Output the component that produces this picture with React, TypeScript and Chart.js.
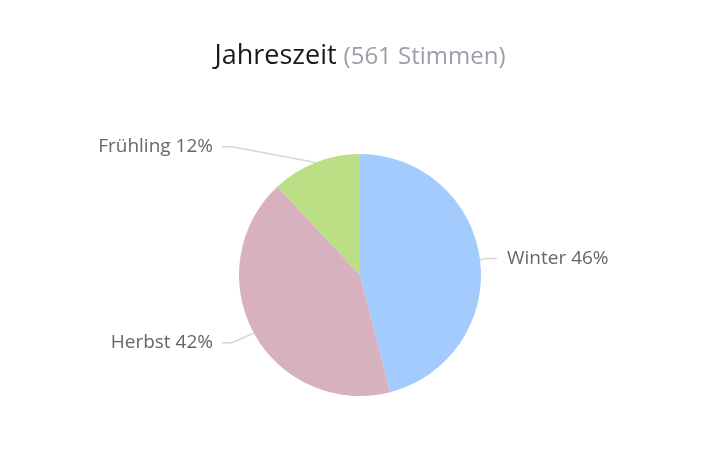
import { Chart, registerables } from 'chart.js'
import type { Plugin } from 'chart.js'
import { useEffect, useRef } from 'react'

Chart.register(...registerables)

const seasons = ['Winter', 'Herbst', 'Frühling']
const votes = [258, 236, 67]
const sliceColors = ['#a3cbfe', '#d8b1be', '#badf85']
const titleText = 'Jahreszeit'

const FONT = '"Open Sans", "Noto Sans", sans-serif'

const totalVotes = votes.reduce((a, b) => a + b, 0)

// title + outside labels with connector lines
const pieLabels: Plugin<'pie'> = {
  id: 'pieLabels',
  afterDraw(chart) {
    const ctx = chart.ctx
    ctx.save()

    // title
    const main = titleText + ' '
    const sub = `(${totalVotes} Stimmen)`
    ctx.textBaseline = 'alphabetic'
    ctx.font = `27px ${FONT}`
    const w1 = ctx.measureText(main).width
    ctx.font = `24px ${FONT}`
    const w2 = ctx.measureText(sub).width
    const startX = chart.width / 2 - (w1 + w2) / 2
    ctx.textAlign = 'left'
    ctx.font = `27px ${FONT}`
    ctx.fillStyle = '#1a1a1a'
    ctx.fillText(main, startX, 64)
    ctx.font = `24px ${FONT}`
    ctx.fillStyle = '#9a9ea6'
    ctx.fillText(sub, startX + w1, 64)

    // slice labels
    const meta = chart.getDatasetMeta(0)
    meta.data.forEach((el: any, i: number) => {
      const { x, y, startAngle, endAngle, outerRadius: r } = el.getProps(
        ['x', 'y', 'startAngle', 'endAngle', 'outerRadius'],
        true
      )
      const mid = (startAngle + endAngle) / 2
      const ex = x + r * Math.cos(mid)
      const ey = y + r * Math.sin(mid)
      const ly = y + (r + 18) * Math.sin(mid) + 1
      const left = Math.cos(mid) < 0
      const pct = Math.round((votes[i] / totalVotes) * 100)
      const text = `${seasons[i]} ${pct}%`

      const lineStart = left ? x - r - 17 : x + r + 16
      const lineBreak = left ? lineStart + 10 : lineStart - 10
      ctx.strokeStyle = '#d6d6d6'
      ctx.lineWidth = 1.5
      ctx.beginPath()
      ctx.moveTo(lineStart, ly)
      ctx.lineTo(lineBreak, ly)
      ctx.lineTo(ex, ey)
      ctx.stroke()

      ctx.font = `19px ${FONT}`
      ctx.fillStyle = '#666666'
      ctx.textBaseline = 'middle'
      ctx.textAlign = left ? 'right' : 'left'
      ctx.fillText(text, left ? x - r - 26 : x + r + 26, ly)
    })
    ctx.restore()
  }
}

function SeasonPie() {
  const canvasRef = useRef<HTMLCanvasElement>(null)

  useEffect(() => {
    if (!canvasRef.current) return () => {}
    const chart = new Chart(canvasRef.current, {
      type: 'pie',
      data: {
        labels: seasons,
        datasets: [
          {
            data: votes,
            backgroundColor: sliceColors,
            borderWidth: 0,
            hoverOffset: 0
          }
        ]
      },
      options: {
        animation: false,
        responsive: true,
        maintainAspectRatio: false,
        layout: {
          padding: { top: 154, bottom: 61, left: 200, right: 200 }
        },
        plugins: {
          legend: { display: false },
          title: { display: false },
          tooltip: { enabled: false }
        }
      },
      plugins: [pieLabels]
    })
    return () => {
      chart.destroy()
    }
  }, [])

  return <canvas ref={canvasRef} />
}

export default function App() {
  return (
    <div
      style={{
        position: 'fixed',
        left: 0,
        top: 0,
        width: 720,
        height: 457,
        background: '#ffffff'
      }}
    >
      <SeasonPie />
    </div>
  )
}
